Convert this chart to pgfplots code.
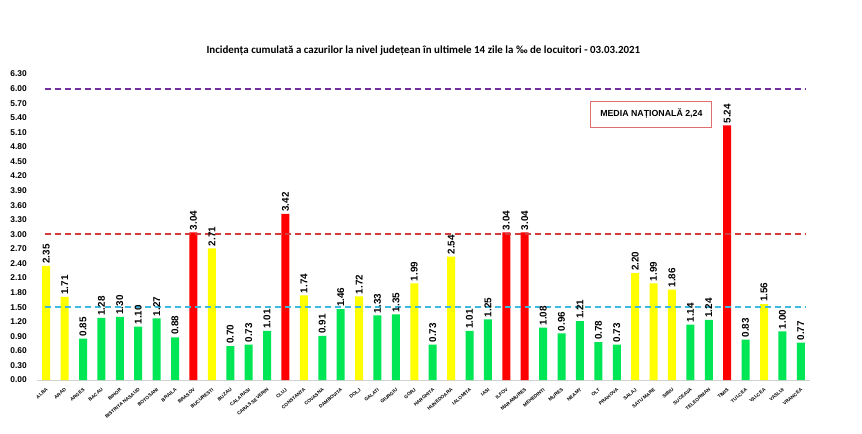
\documentclass[border=0pt]{standalone}
\usepackage{pgfplots}
\pgfplotsset{compat=1.18}
\usepackage{fontspec}
\setmainfont{Liberation Sans}
\newfontfamily\carlito{Carlito}
\definecolor{bgreen}{RGB}{0,230,85}
\definecolor{byellow}{RGB}{255,255,0}
\definecolor{bred}{RGB}{255,0,0}
\definecolor{lblue}{RGB}{60,185,220}
\definecolor{lred}{RGB}{210,60,60}
\definecolor{lpurple}{RGB}{112,48,160}
\definecolor{boxred}{RGB}{225,110,110}
\begin{document}
\begin{tikzpicture}
\path[use as bounding box] (0,0) rectangle (646.5pt,324.75pt);
\node[font=\carlito\bfseries\fontsize{8.2}{9}\selectfont] at (317.5pt,286.5pt)
  {Incidența cumulată a cazurilor la nivel județean în ultimele 14 zile la ‰ de locuitori - 03.03.2021};
\begin{axis}[
  at={(27.75pt,39.75pt)}, anchor=south west,
  scale only axis, width=579.75pt, height=229.5pt,
  xmin=-0.5, xmax=41.5, ymin=0, ymax=6.3,
  axis x line=bottom, axis y line=left,
  x axis line style={draw=gray!35, -},
  y axis line style={draw=none},
  tick style={draw=none},
  ytick={0,0.3,...,6.31},
  yticklabel style={/pgf/number format/fixed,/pgf/number format/fixed zerofill,/pgf/number format/precision=2,font=\bfseries\fontsize{6.3}{7}\selectfont},
  /pgf/number format/assume math mode=true,
  yticklabel style={xshift=-2pt},
  xtick={0,...,41},
  xticklabels={ALBA,ARAD,ARGES,BACAU,BIHOR,BISTRITA NASAUD,BOTOSANI,BRAILA,BRASOV,BUCURESTI,BUZAU,CALARASI,CARAS SEVERIN,CLUJ,CONSTANTA,COVASNA,DAMBOVITA,DOLJ,GALATI,GIURGIU,GORJ,HARGHITA,HUNEDOARA,IALOMITA,IASI,ILFOV,MARAMURES,MEHEDINTI,MURES,NEAMT,OLT,PRAHOVA,SALAJ,SATU MARE,SIBIU,SUCEAVA,TELEORMAN,TIMIS,TULCEA,VALCEA,VASLUI,VRANCEA},
  x tick label style={rotate=40, anchor=north east, inner sep=1pt, font=\bfseries\fontsize{3.6}{4}\selectfont},
  ybar, bar width=6pt, bar shift=0pt,
  nodes near coords,
  nodes near coords style={/pgf/number format/fixed,/pgf/number format/fixed zerofill,/pgf/number format/precision=2,
    font=\bfseries\fontsize{7.4}{8}\selectfont, rotate=90, anchor=west, inner sep=1.5pt, text=black},
  clip=false,
]
\addplot[draw=none, fill=bgreen] coordinates {
(2,0.85) (3,1.28) (4,1.30) (5,1.10) (6,1.27) (7,0.88) (10,0.70) (11,0.73) (12,1.01)
(15,0.91) (16,1.46) (18,1.33) (19,1.35) (21,0.73) (23,1.01) (24,1.25)
(27,1.08) (28,0.96) (29,1.21) (30,0.78) (31,0.73) (35,1.14) (36,1.24)
(38,0.83) (40,1.00) (41,0.77)};
\addplot[draw=none, fill=byellow] coordinates {
(0,2.35) (1,1.71) (9,2.71) (14,1.74) (17,1.72) (20,1.99) (22,2.54) (32,2.20) (33,1.99) (34,1.86) (39,1.56)};
\addplot[draw=none, fill=bred] coordinates {
(8,3.04) (13,3.42) (25,3.04) (26,3.04) (37,5.24)};
\addplot[sharp plot, no markers, nodes near coords=, lblue, line width=1.5pt, dash pattern=on 4.5pt off 3pt] coordinates {(-0.07,1.5) (41.3,1.5)};
\addplot[sharp plot, no markers, nodes near coords=, lred, line width=1.5pt, dash pattern=on 4.5pt off 3pt] coordinates {(-0.07,3.0) (41.3,3.0)};
\addplot[sharp plot, no markers, nodes near coords=, lpurple, line width=1.5pt, dash pattern=on 4.5pt off 3pt] coordinates {(-0.07,6.0) (41.3,6.0)};
\node[draw=boxred, line width=0.6pt, fill=white, minimum width=90.75pt, minimum height=19.5pt, inner sep=2pt,
  font=\bfseries\fontsize{6.6}{8}\selectfont] at (axis cs:32.88,5.477) {MEDIA NAȚIONALĂ 2,24};
\end{axis}
\end{tikzpicture}
\end{document}
